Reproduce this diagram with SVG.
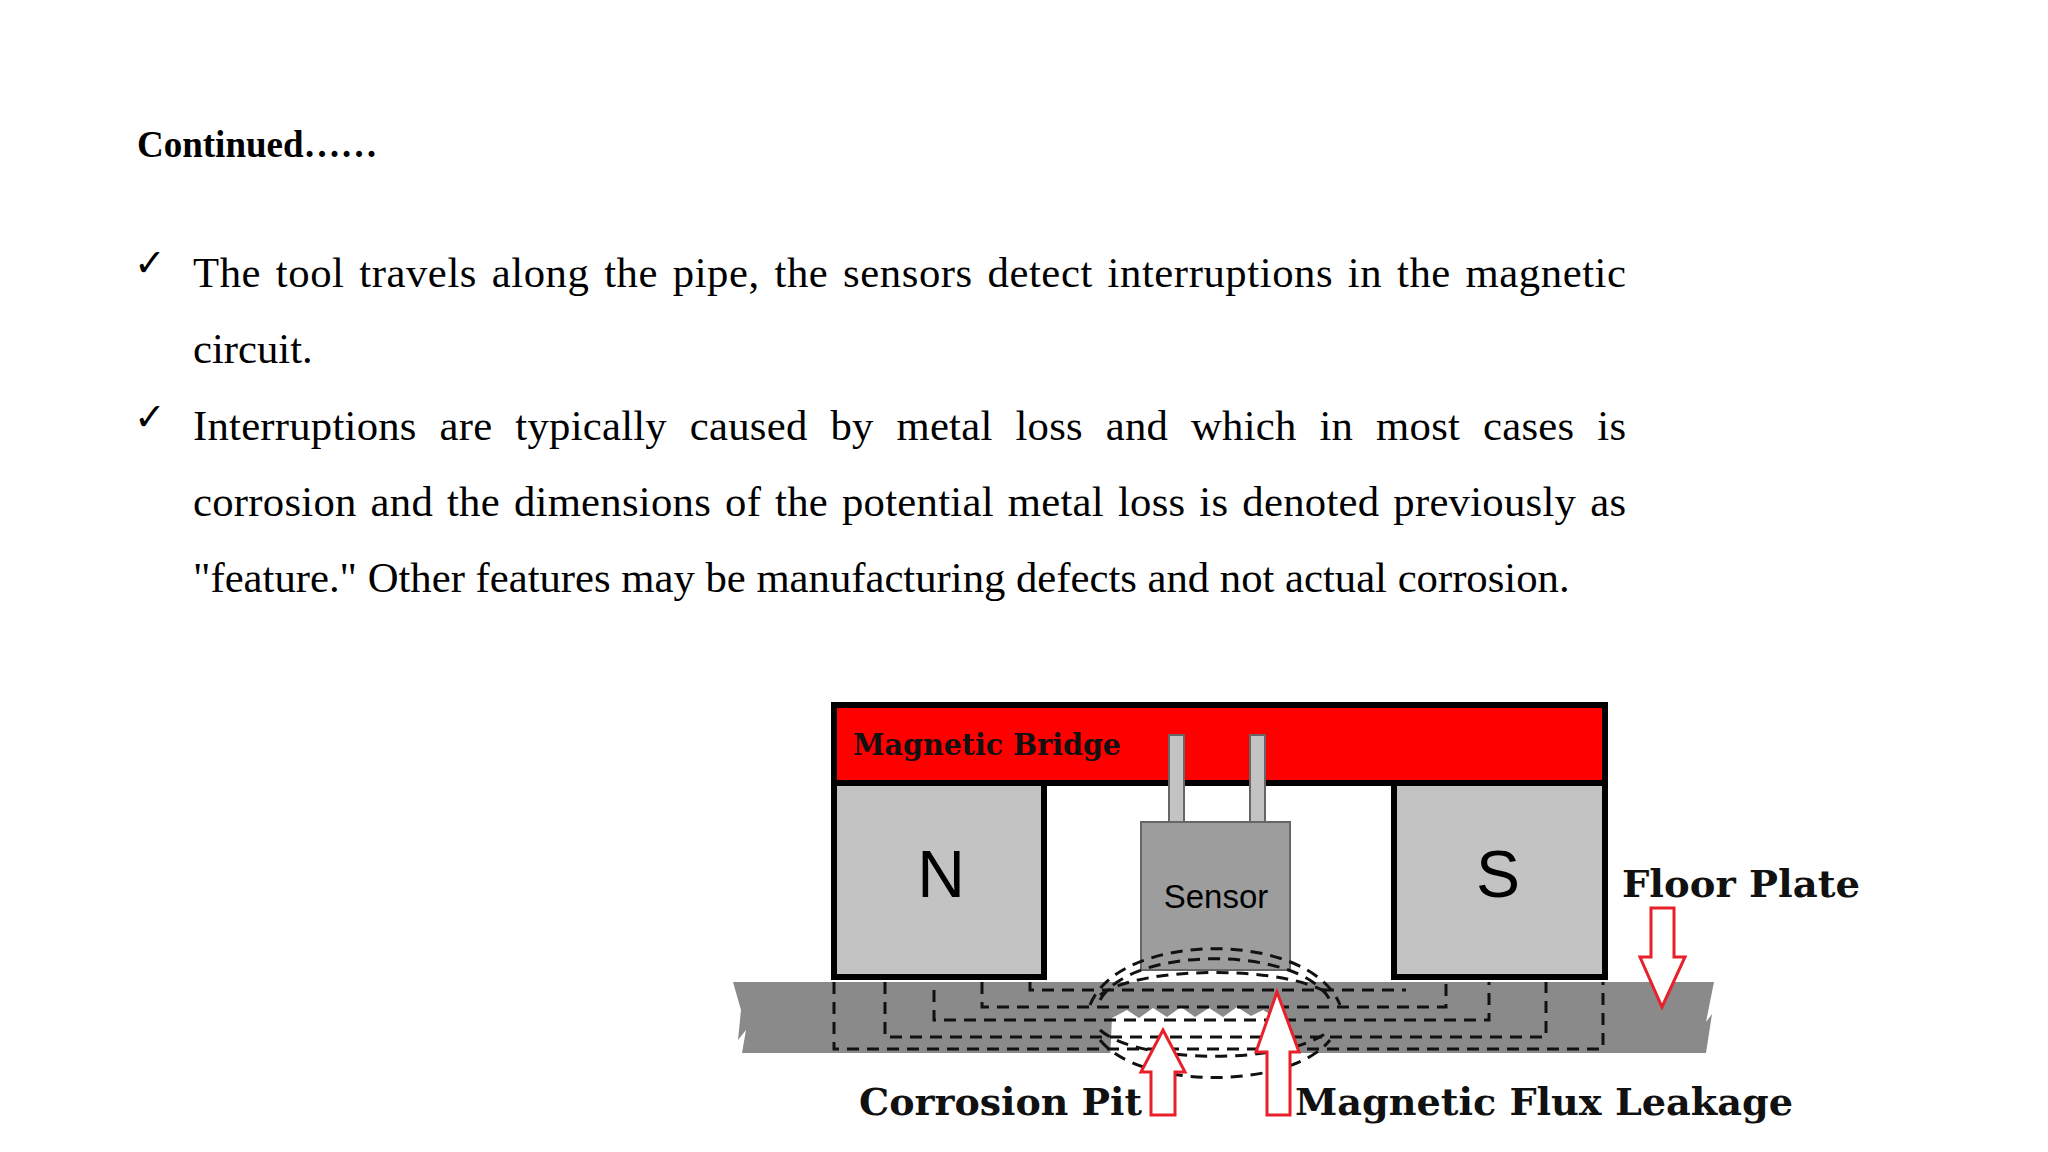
<svg xmlns="http://www.w3.org/2000/svg" width="2048" height="1152" viewBox="0 0 2048 1152">
<style>
.body{font-family:"Liberation Serif",serif;font-size:42.7px;fill:#000}
.chk{font-family:"DejaVu Sans",sans-serif;font-size:38px;fill:#000}
.lab{font-family:"DejaVu Serif",serif;font-weight:bold;fill:#111}
.pole{font-family:"Liberation Sans",Arial,sans-serif;fill:#000}
.box{stroke:#000;stroke-width:6}
.flux{fill:none;stroke:#111;stroke-width:3;stroke-dasharray:12 8}
.arr{fill:#fff;stroke:#e8202a;stroke-width:3}
</style>
<rect width="2048" height="1152" fill="#fff"/>
<g id="text">
<text x="137" y="157" style="font-family:'Liberation Serif',serif;font-weight:bold;font-size:37px">Continued……</text>
<text class="chk" x="134" y="276">✓</text>
<text class="body" x="193" y="287" word-spacing="3.5" textLength="1433" lengthAdjust="spacing">The tool travels along the pipe, the sensors detect interruptions in the magnetic</text>
<text class="body" x="193" y="363">circuit.</text>
<text class="chk" x="134" y="430">✓</text>
<text class="body" x="193" y="440" word-spacing="12" textLength="1433" lengthAdjust="spacing">Interruptions are typically caused by metal loss and which in most cases is</text>
<text class="body" x="193" y="516" word-spacing="3" textLength="1433" lengthAdjust="spacing">corrosion and the dimensions of the potential metal loss is denoted previously as</text>
<text class="body" x="193" y="592">"feature." Other features may be manufacturing defects and not actual corrosion.</text>
</g>
<g id="plate">
<polygon points="733,982 1714,982 1706,1022 1712,1014 1706,1053 742,1053 746,1030 738,1040 741,1010" fill="#8a8a8a"/>
<path d="M1112,1018 l15,-8 l12,8 l14,-10 l14,9 l14,-10 l14,10 l14,-9 l14,9 l14,-10 l14,9 l12,-6 l10,6 L1285,1060 L1110,1060 Z" fill="#fff"/>
</g>
<g id="bridge">
<rect class="box" x="834" y="705" width="771" height="78" fill="#ff0000"/>
<text class="lab" x="853" y="755" font-size="30" textLength="268" lengthAdjust="spacingAndGlyphs">Magnetic Bridge</text>
</g>
<g id="north">
<rect class="box" x="834" y="783" width="210" height="194" fill="#c3c3c3"/>
<text class="pole" x="941" y="897" font-size="66" text-anchor="middle">N</text>
</g>
<g id="south">
<rect class="box" x="1394" y="783" width="211" height="194" fill="#c3c3c3"/>
<text class="pole" x="1498" y="897" font-size="66" text-anchor="middle">S</text>
</g>
<g id="sensor">
<rect x="1169" y="735" width="15" height="87" fill="#c3c3c3" stroke="#666" stroke-width="2"/>
<rect x="1250" y="735" width="15" height="87" fill="#c3c3c3" stroke="#666" stroke-width="2"/>
<rect x="1141" y="822" width="149" height="148" fill="#9d9d9d" stroke="#666" stroke-width="2"/>
<text class="pole" x="1216" y="908" font-size="33" text-anchor="middle" fill="#222">Sensor</text>
</g>
<g id="connectors">
<path class="flux" d="M834,982 V1049 H1603 V982"/>
<path class="flux" d="M885,982 V1037 H1546 V982"/>
<path class="flux" d="M934,990 V1020 H1489 V982"/>
<path class="flux" d="M982,982 V1007 H1446 V982"/>
<path class="flux" d="M1030,982 V990 H1406"/>
<path class="flux" d="M1090,1005 C1120,930 1310,930 1340,1005"/>
<path class="flux" d="M1100,1000 C1130,945 1300,945 1330,1000"/>
<path class="flux" d="M1100,995 C1140,965 1290,965 1330,995"/>
<path class="flux" d="M1100,1040 C1140,1090 1290,1090 1330,1040"/>
<path class="flux" d="M1100,1030 C1140,1065 1290,1065 1330,1030"/>
</g>
<g id="corrosion-pit">
<polygon class="arr" points="1163,1030 1185,1072 1175,1072 1175,1115 1151,1115 1151,1072 1141,1072"/>
<text class="lab" x="859" y="1115" font-size="38" textLength="283" lengthAdjust="spacingAndGlyphs">Corrosion Pit</text>
</g>
<g id="mfl">
<polygon class="arr" points="1277,992 1299,1052 1290,1052 1290,1115 1267,1115 1267,1052 1256,1052"/>
<text class="lab" x="1295" y="1115" font-size="38" textLength="498" lengthAdjust="spacingAndGlyphs">Magnetic Flux Leakage</text>
</g>
<g id="floor-plate">
<polygon class="arr" points="1651,908 1674,908 1674,957 1685,957 1662,1007 1640,957 1651,957"/>
<text class="lab" x="1622" y="897" font-size="38" textLength="238" lengthAdjust="spacingAndGlyphs">Floor Plate</text>
</g>
</svg>
